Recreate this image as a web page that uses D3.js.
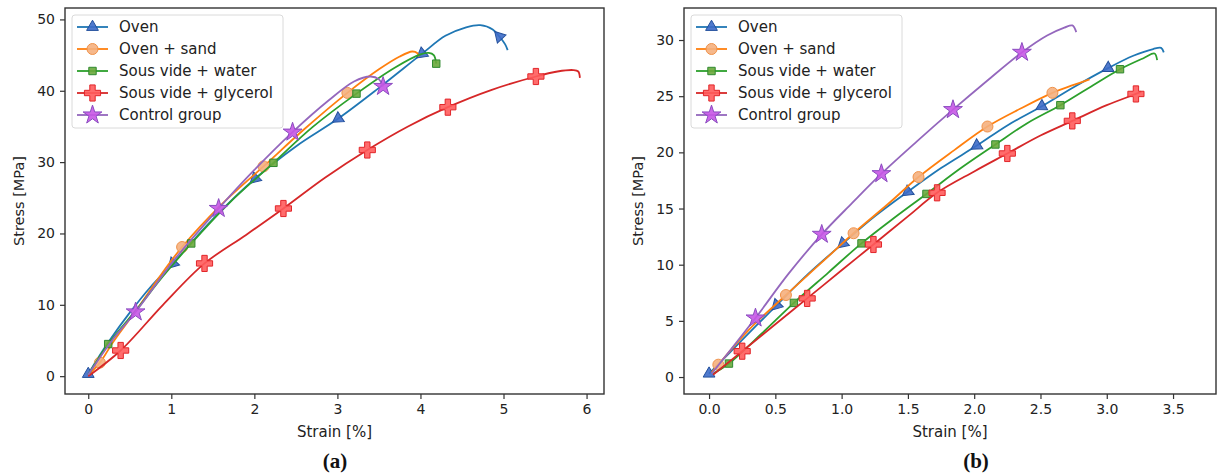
<!DOCTYPE html>
<html>
<head>
<meta charset="utf-8">
<script src="https://cdn.jsdelivr.net/npm/d3@7"></script>
<style>
  body { margin: 0; background: #fff; }
  svg { display: block; font-family: "DejaVu Sans", sans-serif; }
</style>
</head>
<body>
<div id="chart"></div>
<script>
// series names, same order in both panels
const SERIES = ["Oven", "Oven + sand", "Sous vide + water", "Sous vide + glycerol", "Control group"];

// [strain %, stress MPa, marker?]  -- panel (a)
const ovenA = [[0,0.3,1],[0.12,2.6],[0.25,4.9],[0.5,8.9],[0.75,12.5],[1.02,15.8,1],[1.5,22.0],[2.01,27.7,1],[2.5,32.2],[3.01,36.1,1],[3.5,40.4],[4.02,45.2,1],[4.3,47.7],[4.55,48.9],[4.72,49.2],[4.87,48.6],[4.95,47.6,1],[5.02,46.5],[5.05,45.7]];
const sandA = [[0,0.2],[0.14,1.9,1],[0.3,4.8],[0.6,9.6],[0.85,13.8],[1.13,18.1,1],[1.6,24.0],[2.11,29.4,1],[2.6,34.6],[3.12,39.7,1],[3.5,43.0],[3.75,44.8],[3.9,45.5],[3.96,45.3],[3.98,44.8]];
const waterA = [[0,0.2],[0.24,4.5,1],[0.6,9.6],[0.9,14.0],[1.24,18.6,1],[1.7,24.3],[2.23,29.9,1],[2.7,34.9],[3.23,39.6,1],[3.7,43.3],[4.0,45.1],[4.1,45.3],[4.16,45.0],[4.19,43.8,1]];
const glycerolA = [[0,0],[0.39,3.6,1],[0.9,10.0],[1.40,15.8,1],[1.9,19.8],[2.35,23.5,1],[2.85,27.8],[3.36,31.7,1],[3.85,35.0],[4.33,37.7,1],[4.85,40.1],[5.39,42.0,1],[5.65,42.7],[5.84,42.9],[5.9,42.7],[5.92,41.8]];
const controlA = [[0,0.2],[0.3,5.2],[0.57,9.0,1],[1.05,16.5],[1.57,23.5,1],[2.0,28.9],[2.46,34.2,1],[2.9,38.7],[3.2,41.3],[3.4,42.0],[3.5,41.6],[3.55,40.6,1]];

// panel (b)
const ovenB = [[0,0.3,1],[0.25,3.3],[0.51,6.4,1],[0.75,9.2],[1.01,11.9,1],[1.25,14.3],[1.50,16.5,1],[1.75,18.6],[2.02,20.6,1],[2.25,22.4],[2.51,24.1,1],[2.75,25.8],[3.01,27.5,1],[3.2,28.6],[3.35,29.2],[3.41,29.3],[3.43,28.9]];
const sandB = [[0.02,0.4],[0.07,1.1,1],[0.3,4.2],[0.58,7.3,1],[0.85,10.2],[1.09,12.8,1],[1.35,15.4],[1.58,17.8,1],[1.85,20.2],[2.10,22.3,1],[2.35,23.9],[2.59,25.3,1],[2.75,26.0],[2.87,26.5]];
const waterB = [[0.03,0.3],[0.15,1.2,1],[0.4,3.9],[0.64,6.6,1],[0.9,9.3],[1.15,11.9,1],[1.4,14.2],[1.64,16.3,1],[1.9,18.6],[2.16,20.7,1],[2.4,22.6],[2.65,24.2,1],[2.9,26.0],[3.10,27.4,1],[3.28,28.4],[3.36,28.8],[3.38,28.2]];
const glycerolB = [[0.03,0.2],[0.25,2.3,1],[0.5,4.7],[0.74,7.0,1],[1.0,9.5],[1.24,11.8,1],[1.5,14.3],[1.72,16.4,1],[2.0,18.3],[2.25,19.9,1],[2.5,21.5],[2.74,22.8,1],[3.0,24.2],[3.22,25.2,1],[3.26,25.4]];
const controlB = [[0.02,0.3],[0.35,5.25,1],[0.6,9.2],[0.85,12.7,1],[1.08,15.5],[1.30,18.1,1],[1.57,21.0],[1.84,23.8,1],[2.1,26.4],[2.36,28.9,1],[2.55,30.4],[2.68,31.1],[2.74,31.3],[2.77,30.7]];

// tick labels
const strainTicksA = [0, 1, 2, 3, 4, 5, 6];
const stressTicksA = [0, 10, 20, 30, 40, 50];
const strainTicksB = [0, 0.5, 1.0, 1.5, 2.0, 2.5, 3.0, 3.5];
const stressTicksB = [0, 5, 10, 15, 20, 25, 30];

const WIDTH = 1218, HEIGHT = 473;

// line colour, marker fill, marker edge, symbol, symbol size
const STYLE = [
  { line: "#1f77b4", fill: "#3d6cc8", edge: "#23509c", sym: d3.symbolTriangle, size: 60 },
  { line: "#ff7f0e", fill: "#f5b07e", edge: "#f0924a", sym: d3.symbolCircle, size: 95 },
  { line: "#2ca02c", fill: "#6aa83c", edge: "#2f8a2f", sym: d3.symbolSquare, size: 55 },
  { line: "#d62728", fill: "#ff5c5c", edge: "#e2262a", sym: d3.symbolCross, size: 145 },
  { line: "#9467bd", fill: "#c657e6", edge: "#8a4cc0", sym: d3.symbolStar, size: 110 }
];

const panels = [
  { key: "a", xDom: [-0.28, 6.21], yDom: [-2.5, 51.6], left: 65, right: 604, top: 8, bottom: 394,
    xTicks: strainTicksA, yTicks: stressTicksA, xFmt: d3.format("d"), yLabX: 19,
    series: [ovenA, sandA, waterA, glycerolA, controlA] },
  { key: "b", xDom: [-0.189, 3.824], yDom: [-1.51, 32.85], left: 684, right: 1216, top: 8, bottom: 394,
    xTicks: strainTicksB, yTicks: stressTicksB, xFmt: d3.format(".1f"), yLabX: 638,
    series: [ovenB, sandB, waterB, glycerolB, controlB] }
];

const svg = d3.select("#chart").append("svg")
  .attr("width", WIDTH)
  .attr("height", HEIGHT);

panels.forEach(drawPanel);

function drawPanel(p) {
  const x = d3.scaleLinear().domain(p.xDom).range([p.left, p.right]);
  const y = d3.scaleLinear().domain(p.yDom).range([p.bottom, p.top]);
  const g = svg.append("g");

  g.append("clipPath").attr("id", "clip-" + p.key)
    .append("rect")
    .attr("x", p.left).attr("y", p.top)
    .attr("width", p.right - p.left).attr("height", p.bottom - p.top);

  // axes
  const gx = g.append("g").attr("transform", "translate(0," + p.bottom + ")")
    .call(d3.axisBottom(x).tickValues(p.xTicks).tickFormat(p.xFmt).tickSize(5).tickPadding(5));
  const gy = g.append("g").attr("transform", "translate(" + p.left + ",0)")
    .call(d3.axisLeft(y).tickValues(p.yTicks).tickSize(5).tickPadding(5));
  [gx, gy].forEach(a => {
    a.select(".domain").remove();
    a.selectAll("line").attr("stroke", "#333").attr("stroke-width", 1.2);
    a.selectAll("text").attr("fill", "#222").style("font-size", "14px").style("font-family", "DejaVu Sans");
  });

  // curves
  const line = d3.line()
    .x(d => x(d[0]))
    .y(d => y(d[1]))
    .curve(d3.curveCatmullRom.alpha(0.5));

  const plot = g.append("g").attr("clip-path", "url(#clip-" + p.key + ")");
  p.series.forEach((pts, i) => {
    const st = STYLE[i];
    plot.append("path")
      .datum(pts)
      .attr("fill", "none")
      .attr("stroke", st.line)
      .attr("stroke-width", 1.8)
      .attr("d", line);

    const marks = pts.map((d, j) => ({ d: d, prev: pts[j - 1] })).filter(o => o.d[2]);
    plot.selectAll(null)
      .data(marks)
      .enter()
      .append("path")
      .attr("d", d3.symbol().type(st.sym).size(st.size))
      .attr("transform", o => {
        let rot = 0;
        if (i === 0 && o.prev) {
          // triangles point back along the curve
          const dx = x(o.prev[0]) - x(o.d[0]), dy = y(o.prev[1]) - y(o.d[1]);
          rot = Math.atan2(dy, dx) * 180 / Math.PI + 90;
        }
        return "translate(" + x(o.d[0]) + "," + y(o.d[1]) + ") rotate(" + rot + ")";
      })
      .attr("fill", st.fill)
      .attr("fill-opacity", 0.9)
      .attr("stroke", st.edge)
      .attr("stroke-width", 1);
  });

  // frame
  g.append("rect")
    .attr("x", p.left).attr("y", p.top)
    .attr("width", p.right - p.left).attr("height", p.bottom - p.top)
    .attr("fill", "none")
    .attr("stroke", "#333")
    .attr("stroke-width", 1.4);

  // legend
  const lx = p.left + 7, ly = 15;
  const lg = g.append("g");
  lg.append("rect")
    .attr("x", lx).attr("y", ly)
    .attr("width", 211).attr("height", 113)
    .attr("rx", 3)
    .attr("fill", "#fff").attr("fill-opacity", 0.85)
    .attr("stroke", "#dadada");
  SERIES.forEach((name, i) => {
    const st = STYLE[i];
    const ry = ly + 12 + i * 22;
    lg.append("line")
      .attr("x1", lx + 5).attr("x2", lx + 36)
      .attr("y1", ry).attr("y2", ry)
      .attr("stroke", st.line).attr("stroke-width", 1.8);
    lg.append("path")
      .attr("d", d3.symbol().type(st.sym).size(st.size))
      .attr("transform", "translate(" + (lx + 20.5) + "," + ry + ")")
      .attr("fill", st.fill).attr("fill-opacity", 0.9)
      .attr("stroke", st.edge).attr("stroke-width", 1);
    lg.append("text")
      .attr("x", lx + 47).attr("y", ry)
      .attr("dy", "0.36em")
      .attr("fill", "#222")
      .style("font-size", "15px")
      .text(name);
  });

  // axis titles
  g.append("text")
    .attr("x", (p.left + p.right) / 2).attr("y", 437)
    .attr("text-anchor", "middle")
    .attr("fill", "#222")
    .style("font-size", "15px")
    .text("Strain [%]");
  g.append("text")
    .attr("transform", "translate(" + p.yLabX + "," + ((p.top + p.bottom) / 2) + ") rotate(-90)")
    .attr("text-anchor", "middle")
    .attr("dy", "0.36em")
    .attr("fill", "#222")
    .style("font-size", "14.5px")
    .text("Stress [MPa]");

  // panel letter
  g.append("text")
    .attr("x", p.key === "a" ? 335 : 976).attr("y", 468)
    .attr("text-anchor", "middle")
    .attr("fill", "#111")
    .style("font-family", "'Liberation Serif', serif")
    .style("font-weight", "bold")
    .style("font-size", "21px")
    .text("(" + p.key + ")");
}
</script>
</body>
</html>
